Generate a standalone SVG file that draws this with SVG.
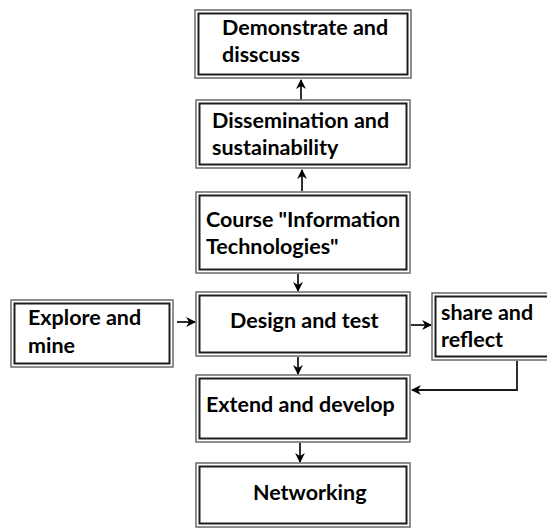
<svg xmlns="http://www.w3.org/2000/svg" width="547" height="529" viewBox="0 0 547 529">
  <style>
    .outer { fill: #ffffff; stroke: #6a6a6a; stroke-width: 1.5; }
    .inner { fill: none; stroke: #1e1e1e; stroke-width: 2; }
    .label { font-family: "Lato", "Liberation Sans", sans-serif; font-weight: bold; font-size: 21.5px; fill: #000000; }
    .link { fill: none; stroke: #1a1a1a; stroke-width: 1.8; }
  </style>
  <defs>
    <marker id="head" viewBox="0 0 10 10" refX="9" refY="5" markerWidth="5.5" markerHeight="5.5" markerUnits="strokeWidth" orient="auto">
      <path d="M0,0 L10,5 L0,10 L3,5 Z" fill="#000000"/>
    </marker>
  </defs>

  <rect width="547" height="529" fill="#ffffff"/>

  <!-- connectors -->
  <g id="connectors">
    <line class="link" x1="301" y1="101" x2="301" y2="80" marker-end="url(#head)"/>
    <line class="link" x1="302" y1="191" x2="302" y2="170" marker-end="url(#head)"/>
    <line class="link" x1="298" y1="274" x2="298" y2="291" marker-end="url(#head)"/>
    <line class="link" x1="298" y1="357" x2="298" y2="374" marker-end="url(#head)"/>
    <line class="link" x1="300" y1="443" x2="300" y2="462" marker-end="url(#head)"/>
    <line class="link" x1="177" y1="322" x2="195" y2="322" marker-end="url(#head)"/>
    <line class="link" x1="411" y1="325" x2="431" y2="325" marker-end="url(#head)"/>
    <polyline class="link" points="517,361 517,390 412,390" marker-end="url(#head)"/>
  </g>

  <!-- nodes -->
  <g id="demonstrate">
    <rect class="outer" x="195" y="10" width="216" height="68"/>
    <rect class="inner" x="198.5" y="13.5" width="209" height="61"/>
    <text class="label" x="222" y="35">Demonstrate and</text>
    <text class="label" x="222" y="62">disscuss</text>
  </g>

  <g id="dissemination">
    <rect class="outer" x="196" y="100" width="214" height="68"/>
    <rect class="inner" x="199.5" y="103.5" width="207" height="61"/>
    <text class="label" x="212" y="128">Dissemination and</text>
    <text class="label" x="212" y="155">sustainability</text>
  </g>

  <g id="course">
    <rect class="outer" x="196" y="192" width="214" height="81"/>
    <rect class="inner" x="199.5" y="195.5" width="207" height="74"/>
    <text class="label" x="206" y="227">Course "Information</text>
    <text class="label" x="206" y="254">Technologies"</text>
  </g>

  <g id="design">
    <rect class="outer" x="196" y="292" width="214" height="64"/>
    <rect class="inner" x="199.5" y="295.5" width="207" height="57"/>
    <text class="label" x="230" y="328">Design and test</text>
  </g>

  <g id="explore">
    <rect class="outer" x="11" y="300" width="162" height="67"/>
    <rect class="inner" x="14.5" y="303.5" width="155" height="60"/>
    <text class="label" x="28" y="325">Explore and</text>
    <text class="label" x="28" y="353">mine</text>
  </g>

  <g id="share">
    <rect class="outer" x="432" y="293" width="124" height="67"/>
    <rect class="inner" x="435.5" y="296.5" width="117" height="60"/>
    <text class="label" x="441" y="320">share and</text>
    <text class="label" x="441" y="347">reflect</text>
  </g>

  <g id="extend">
    <rect class="outer" x="196" y="375" width="214" height="67"/>
    <rect class="inner" x="199.5" y="378.5" width="207" height="60"/>
    <text class="label" x="206" y="412">Extend and develop</text>
  </g>

  <g id="networking">
    <rect class="outer" x="196" y="463" width="214" height="64"/>
    <rect class="inner" x="199.5" y="466.5" width="207" height="57"/>
    <text class="label" x="253" y="500">Networking</text>
  </g>
</svg>
